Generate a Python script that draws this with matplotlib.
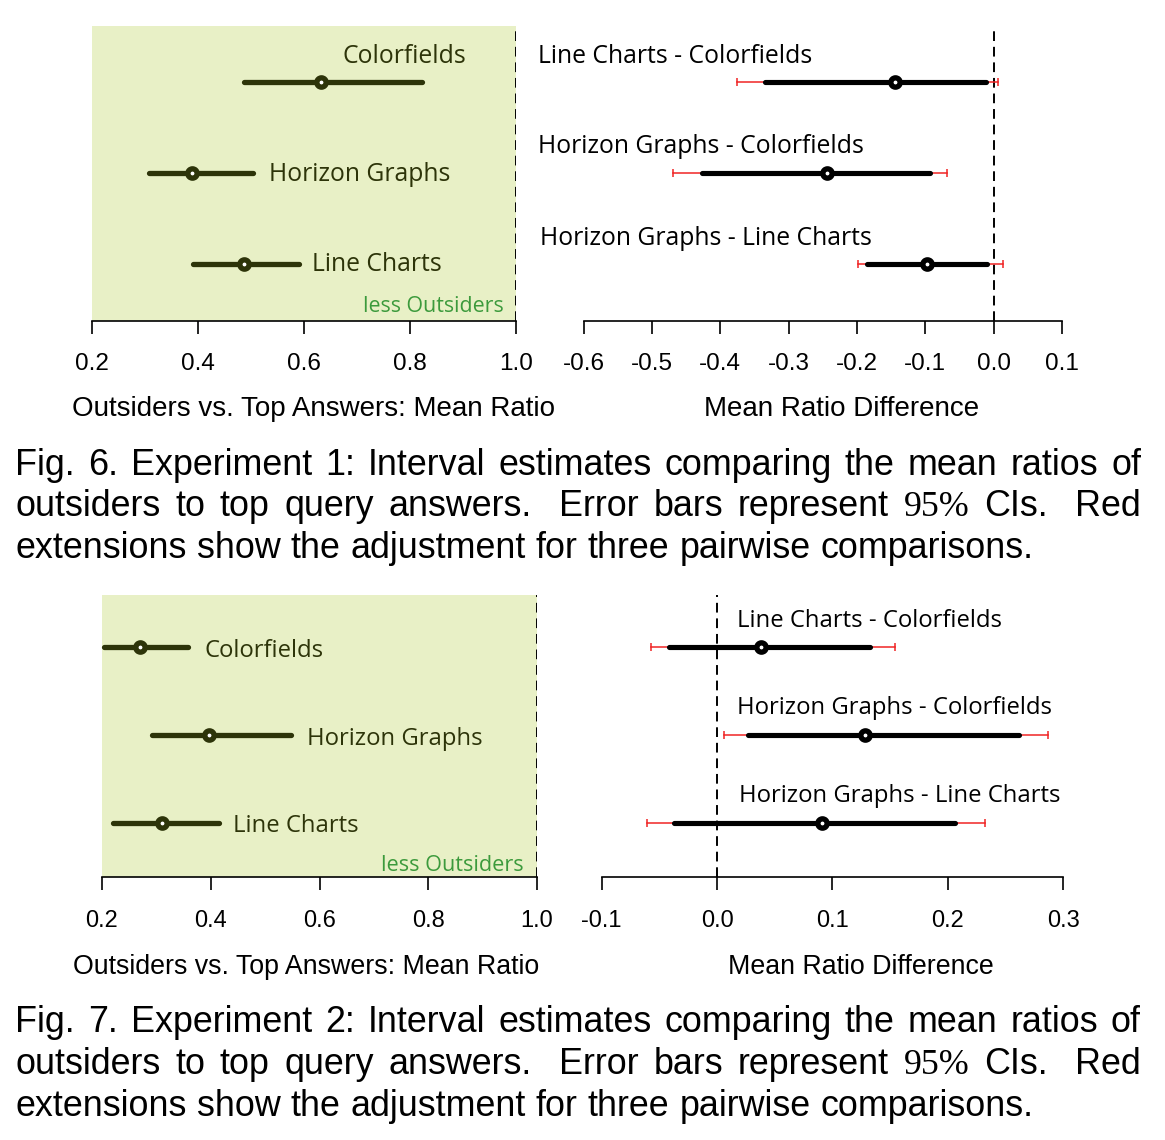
import matplotlib
matplotlib.use("Agg")
import matplotlib.pyplot as plt

# ---------------- data ----------------
conditions = ["Colorfields", "Horizon Graphs", "Line Charts"]
pairs = ["Line Charts - Colorfields", "Horizon Graphs - Colorfields",
         "Horizon Graphs - Line Charts"]

# Experiment 1: mean ratio outsiders vs top answers (95% CI)
exp1_mean = [0.632, 0.389, 0.487]
exp1_lo = [0.488, 0.308, 0.391]
exp1_hi = [0.823, 0.504, 0.591]
# Experiment 1: pairwise differences
exp1_diff = [-0.145, -0.244, -0.098]
exp1_diff_lo = [-0.335, -0.427, -0.185]
exp1_diff_hi = [-0.011, -0.093, -0.010]
exp1_adj_lo = [-0.376, -0.469, -0.199]
exp1_adj_hi = [0.006, -0.068, 0.013]

# Experiment 2
exp2_mean = [0.269, 0.397, 0.310]
exp2_lo = [0.204, 0.292, 0.221]
exp2_hi = [0.358, 0.547, 0.416]
exp2_diff = [0.038, 0.128, 0.091]
exp2_diff_lo = [-0.042, 0.027, -0.037]
exp2_diff_hi = [0.133, 0.262, 0.206]
exp2_adj_lo = [-0.057, 0.006, -0.061]
exp2_adj_hi = [0.154, 0.287, 0.232]

ratio_ticks = [0.2, 0.4, 0.6, 0.8, 1.0]
ratio_labels = ["0.2", "0.4", "0.6", "0.8", "1.0"]
diff1_ticks = [-0.6, -0.5, -0.4, -0.3, -0.2, -0.1, 0.0, 0.1]
diff1_labels = ["-0.6", "-0.5", "-0.4", "-0.3", "-0.2", "-0.1", "0.0", "0.1"]
diff2_ticks = [-0.1, 0.0, 0.1, 0.2, 0.3]
diff2_labels = ["-0.1", "0.0", "0.1", "0.2", "0.3"]

xlabel_ratio = "Outsiders vs. Top Answers: Mean Ratio"
xlabel_diff = "Mean Ratio Difference"
less_label = "less Outsiders"

cap6 = [
    "Fig. 6. Experiment 1: Interval estimates comparing the mean ratios of",
    "outsiders to top query answers.  Error bars represent 95% CIs.  Red",
    "extensions show the adjustment for three pairwise comparisons.",
]
cap7 = [
    "Fig. 7. Experiment 2: Interval estimates comparing the mean ratios of",
    "outsiders to top query answers.  Error bars represent 95% CIs.  Red",
    "extensions show the adjustment for three pairwise comparisons.",
]

# ---------------- style ----------------
OLIVE = "#2d3409"
BOX = "#e8f0c6"
GREEN = "#3c9a3c"
RED = "#f02424"
LABEL_FONT = "Open Sans"
SANS = "Liberation Sans"

W, H = 1165, 1140
fig = plt.figure(figsize=(W / 100, H / 100), dpi=100)
fig.patch.set_facecolor("white")


def fx(px):
    return px / W


def fy(py):
    return 1 - py / H


def add_axes_px(x0, x1, y0, y1):
    return fig.add_axes([x0 / W, 1 - y1 / H, (x1 - x0) / W, (y1 - y0) / H])


def style_axis(ax, ticks, labels, fs, pad):
    ax.set_xticks(ticks)
    ax.set_xticklabels(labels, fontfamily=SANS, fontsize=fs)
    ax.set_yticks([])
    for s in ["top", "right", "left"]:
        ax.spines[s].set_visible(False)
    ax.spines["bottom"].set_linewidth(1.2)
    ax.tick_params(axis="x", direction="out", length=9.4, width=1.2, pad=pad,
                   colors="black")


ROWS = [3, 2, 1]


def draw_conditions(ax, means, lo, hi):
    ax.set_facecolor(BOX)
    for m, l, h, y in zip(means, lo, hi, ROWS):
        ax.plot([l, h], [y, y], color=OLIVE, lw=3.8, solid_capstyle="round",
                zorder=3, clip_on=False)
        ax.plot([m], [y], marker="o", ms=6.7, mew=3.85, mfc="white",
                mec=OLIVE, zorder=4, clip_on=False)
    ax.axvline(1.0, color="black", lw=1.4, dashes=(5, 3), zorder=2)


def draw_pairs(ax, diff, dlo, dhi, alo, ahi):
    ax.axvline(0.0, color="black", lw=1.4, dashes=(5, 3), zorder=1)
    for d, l, h, al, ah, y in zip(diff, dlo, dhi, alo, ahi, ROWS):
        ax.plot([al, ah], [y, y], color=RED, lw=1.1, zorder=2, clip_on=False)
        ax.plot([al, ah], [y, y], ls="none", marker="|", ms=6, mew=1.1,
                color=RED, zorder=2, clip_on=False)
        ax.plot([l, h], [y, y], color="black", lw=3.7, solid_capstyle="round",
                zorder=3, clip_on=False)
        ax.plot([d], [y], marker="o", ms=6.7, mew=3.85, mfc="white",
                mec="black", zorder=4, clip_on=False)


# ---------------- Experiment 1 ----------------
ax1 = add_axes_px(91.7, 515.7, 25.7, 321)
ax1.set_xlim(0.2, 1.0)
ax1.set_ylim(0.38, 3.615)
draw_conditions(ax1, exp1_mean, exp1_lo, exp1_hi)
style_axis(ax1, ratio_ticks, ratio_labels, 17.5, 13.5)

ax2 = add_axes_px(583.6, 1062, 25.7, 321)
ax2.set_xlim(-0.6, 0.1)
ax2.set_ylim(0.38, 3.615)
draw_pairs(ax2, exp1_diff, exp1_diff_lo, exp1_diff_hi, exp1_adj_lo, exp1_adj_hi)
style_axis(ax2, diff1_ticks, diff1_labels, 17.5, 13.5)

# ---------------- Experiment 2 ----------------
ax3 = add_axes_px(102, 537, 595, 877)
ax3.set_xlim(0.2, 1.0)
ax3.set_ylim(0.392, 3.585)
draw_conditions(ax3, exp2_mean, exp2_lo, exp2_hi)
style_axis(ax3, ratio_ticks, ratio_labels, 17, 14.5)

ax4 = add_axes_px(601.7, 1063, 595, 877)
ax4.set_xlim(-0.1, 0.3)
ax4.set_ylim(0.392, 3.585)
draw_pairs(ax4, exp2_diff, exp2_diff_lo, exp2_diff_hi, exp2_adj_lo, exp2_adj_hi)
style_axis(ax4, diff2_ticks, diff2_labels, 17, 14.5)

# ---------------- in-panel labels (pixel layout) ----------------
lab_pos_1 = [(342.3, 63.3), (269, 181), (312.3, 270.7)]
lab_pos_2 = [(205, 656.7), (306.7, 745), (233.3, 831.7)]
pair_pos_1 = [(537.9, 63.3), (537.9, 153.3), (540.4, 245)]
pair_pos_2 = [(736.7, 626.7), (736.7, 714), (739, 801.7)]

for name, (x, y) in zip(conditions, lab_pos_1):
    fig.text(fx(x), fy(y), name, ha="left", va="baseline", color=OLIVE,
             fontfamily=LABEL_FONT, fontsize=17.8)
for name, (x, y) in zip(conditions, lab_pos_2):
    fig.text(fx(x), fy(y), name, ha="left", va="baseline", color=OLIVE,
             fontfamily=LABEL_FONT, fontsize=17.2)
for name, (x, y) in zip(pairs, pair_pos_1):
    fig.text(fx(x), fy(y), name, ha="left", va="baseline", color="black",
             fontfamily=LABEL_FONT, fontsize=17.8)
for name, (x, y) in zip(pairs, pair_pos_2):
    fig.text(fx(x), fy(y), name, ha="left", va="baseline", color="black",
             fontfamily=LABEL_FONT, fontsize=17.2)

fig.text(fx(503.3), fy(312.3), less_label, ha="right", va="baseline",
         color=GREEN, fontfamily=LABEL_FONT, fontsize=15.4)
fig.text(fx(523.3), fy(870.7), less_label, ha="right", va="baseline",
         color=GREEN, fontfamily=LABEL_FONT, fontsize=15.6)

# axis titles
fig.text(fx(313), fy(416), xlabel_ratio, ha="center", va="baseline",
         fontfamily=SANS, fontsize=20)
fig.text(fx(842), fy(416), xlabel_diff, ha="center", va="baseline",
         fontfamily=SANS, fontsize=20)
fig.text(fx(306), fy(973.5), xlabel_ratio, ha="center", va="baseline",
         fontfamily=SANS, fontsize=19.3)
fig.text(fx(861), fy(973.5), xlabel_diff, ha="center", va="baseline",
         fontfamily=SANS, fontsize=19.3)

# ---------------- captions ----------------
CAP_FS = 25.85
renderer = fig.canvas.get_renderer()


def caption_line(line, x0, x1, yb, justify=True):
    words = line.split()
    texts = []
    for w in words:
        fam = "Liberation Serif" if w == "95%" else SANS
        texts.append(fig.text(0, fy(yb), w, ha="left", va="baseline",
                              fontfamily=fam, fontsize=CAP_FS))
    widths = [t.get_window_extent(renderer).width for t in texts]
    weights = [1.9 if w.endswith(".") and w not in ("Fig.", "6.", "7.") else 1.0
               for w in words[:-1]]
    if justify:
        unit = ((x1 - x0) - sum(widths)) / sum(weights)
    else:
        sp = fig.text(0, 0, "a a", fontfamily=SANS, fontsize=CAP_FS)
        sa = fig.text(0, 0, "aa", fontfamily=SANS, fontsize=CAP_FS)
        unit = (sp.get_window_extent(renderer).width
                - sa.get_window_extent(renderer).width)
        sp.remove()
        sa.remove()
    x = x0
    for i, t in enumerate(texts):
        t.set_x(fx(x))
        if i < len(weights):
            x += widths[i] + unit * weights[i]


for lines, ybs in [(cap6, [475, 516.5, 558.5]), (cap7, [1032, 1074, 1116])]:
    caption_line(lines[0], 15.5, 1141, ybs[0], True)
    caption_line(lines[1], 15.5, 1141, ybs[1], True)
    caption_line(lines[2], 15.5, 1141, ybs[2], False)

fig.savefig("out.png", dpi=100)
